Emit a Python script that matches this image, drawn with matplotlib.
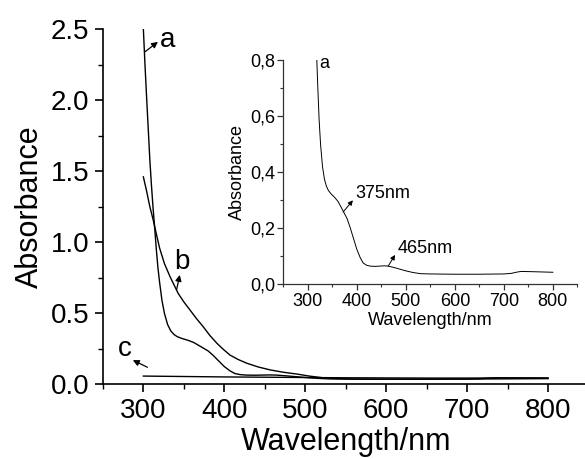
import matplotlib
matplotlib.use("Agg")
import matplotlib.pyplot as plt
from matplotlib.ticker import MultipleLocator

plt.rcParams['font.family'] = ['Liberation Sans', 'DejaVu Sans']

# ---- data ----
wl_a = [300, 302, 304, 306, 308, 310, 312, 314, 316, 318, 320, 323, 326, 330, 334,
        338, 342, 348, 355, 362, 372, 380, 386, 393, 400, 407, 413, 420, 427, 437,
        447, 456, 464, 476, 488, 500, 515, 530, 550, 600, 650, 700, 715, 725, 735,
        760, 800]
abs_a = [2.50, 2.25, 2.02, 1.80, 1.58, 1.40, 1.24, 1.10, 0.95, 0.82, 0.72, 0.59,
         0.50, 0.42, 0.375, 0.35, 0.335, 0.322, 0.31, 0.295, 0.262, 0.235, 0.205,
         0.165, 0.125, 0.095, 0.076, 0.068, 0.065, 0.064, 0.065, 0.066, 0.065,
         0.060, 0.054, 0.048, 0.042, 0.038, 0.037, 0.036, 0.036, 0.037, 0.039,
         0.043, 0.046, 0.045, 0.043]

wl_b = [300, 304, 308, 312, 316, 320, 326, 333, 343, 350, 358, 366, 374, 382, 391,
        399, 407, 417, 428, 442, 457, 473, 490, 505, 522, 540, 560, 600, 700, 800]
abs_b = [1.46, 1.36, 1.25, 1.16, 1.06, 0.96, 0.85, 0.757, 0.64, 0.58, 0.52, 0.46,
         0.405, 0.345, 0.288, 0.245, 0.206, 0.175, 0.148, 0.122, 0.101, 0.085,
         0.072, 0.058, 0.046, 0.040, 0.037, 0.036, 0.037, 0.040]

wl_c = [300, 350, 400, 450, 500, 550, 600, 650, 700, 750, 800]
abs_c = [0.058, 0.055, 0.052, 0.050, 0.048, 0.046, 0.045, 0.044, 0.044, 0.045, 0.045]

main_xticks = [300, 400, 500, 600, 700, 800]
main_yticks = [0.0, 0.5, 1.0, 1.5, 2.0, 2.5]
inset_yticks = [0.0, 0.2, 0.4, 0.6, 0.8]
inset_yticklabels = ['0,0', '0,2', '0,4', '0,6', '0,8']

fig = plt.figure(figsize=(5.85, 4.59), dpi=100)

# ---- main axes ----
ax = fig.add_axes([0.1759, 0.1627, 0.830, 0.774])
for x, y in ((wl_a, abs_a), (wl_b, abs_b), (wl_c, abs_c)):
    ax.plot(x, y, color='k', lw=1.0)
ax.set_xlim(250, 850)
ax.set_ylim(0, 2.5)
ax.set_xticks(main_xticks)
ax.set_yticks(main_yticks)
ax.set_yticklabels([f'{v:.1f}' for v in main_yticks])
ax.xaxis.set_minor_locator(MultipleLocator(50))
ax.yaxis.set_minor_locator(MultipleLocator(0.25))
for s in ('top', 'right'):
    ax.spines[s].set_visible(False)
for s in ('left', 'bottom'):
    ax.spines[s].set_linewidth(1.2)
ax.tick_params(which='major', direction='out', length=6, width=1.2, labelsize=20, pad=4)
ax.tick_params(which='minor', direction='out', length=3.5, width=1.0)
ax.set_xlabel('Wavelength/nm', fontsize=22, labelpad=2)
ax.set_ylabel('Absorbance', fontsize=22, labelpad=4)

arrow_kw = dict(arrowstyle='-|>', color='k', lw=0.9, mutation_scale=9,
                shrinkA=0, shrinkB=0)
ax.annotate('', xy=(318, 2.41), xytext=(302, 2.34), arrowprops=arrow_kw)
ax.text(320, 2.42, 'a', fontsize=20, va='center', ha='left')
ax.annotate('', xy=(345, 0.77), xytext=(341, 0.664), arrowprops=arrow_kw)
ax.text(347, 0.86, 'b', fontsize=20, va='center', ha='center')
ax.annotate('', xy=(287, 0.17), xytext=(305, 0.12), arrowprops=arrow_kw)
ax.text(277, 0.25, 'c', fontsize=20, va='center', ha='center')

# ---- inset ----
ins = fig.add_axes([0.4843, 0.3806, 0.5026, 0.488])
ins.plot(wl_a, abs_a, color='k', lw=0.7)
ins.set_xlim(250, 850)
ins.set_ylim(0, 0.8)
ins.set_xticks(main_xticks)
ins.set_yticks(inset_yticks)
ins.set_yticklabels(inset_yticklabels)
ins.xaxis.set_minor_locator(MultipleLocator(50))
ins.yaxis.set_minor_locator(MultipleLocator(0.1))
for s in ('top', 'right'):
    ins.spines[s].set_visible(False)
for s in ('left', 'bottom'):
    ins.spines[s].set_linewidth(0.9)
    ins.spines[s].set_color('#333333')
ins.patch.set_alpha(0)
ins.tick_params(which='major', direction='out', length=4, width=0.9,
                labelsize=13, pad=2, color='#333333')
ins.tick_params(which='minor', direction='out', length=2.5, width=0.8, color='#333333')
ins.set_xlabel('Wavelength/nm', fontsize=13, labelpad=2)
ins.set_ylabel('Absorbance', fontsize=13, labelpad=3)

arrow_kw2 = dict(arrowstyle='-|>', color='k', lw=0.7, mutation_scale=7,
                 shrinkA=0, shrinkB=0)
ins.text(323, 0.787, 'a', fontsize=13, va='center', ha='left')
ins.annotate('', xy=(392, 0.30), xytext=(372, 0.258), arrowprops=arrow_kw2)
ins.text(396, 0.326, '375nm', fontsize=13, va='center', ha='left')
ins.annotate('', xy=(478, 0.105), xytext=(464, 0.065), arrowprops=arrow_kw2)
ins.text(483, 0.128, '465nm', fontsize=13, va='center', ha='left')

fig.savefig('out.png', dpi=100)
